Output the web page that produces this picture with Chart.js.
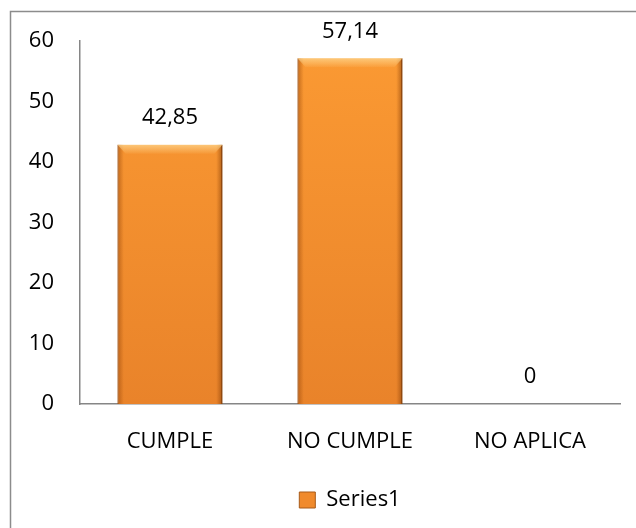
<!DOCTYPE html>
<html>
<head>
<meta charset="utf-8">
<script src="https://cdn.jsdelivr.net/npm/chart.js@4/dist/chart.umd.min.js"></script>
<style>
  html, body { margin: 0; padding: 0; background: #fff; }
  #wrap { width: 636px; height: 528px; }
</style>
</head>
<body>
<div id="wrap"><canvas id="grafica" width="636" height="528"></canvas></div>
<script>
// datos del grafico
const categorias = ['CUMPLE', 'NO CUMPLE', 'NO APLICA'];
const valores = [42.85, 57.14, 0];
const nombreSerie = 'Series1';
const ticksY = [0, 10, 20, 30, 40, 50, 60];

const fuente = '"Open Sans", Lato, sans-serif';

// marco gris alrededor del grafico
const marco = {
  id: 'marco',
  beforeDraw(chart) {
    const c = chart.ctx;
    c.save();
    c.strokeStyle = '#8c8c8c';
    c.lineWidth = 1.5;
    c.strokeRect(10.5, 11.5, chart.width + 20, chart.height + 20);
    c.restore();
  }
};

// sombreado lateral de las barras y etiquetas de valor
const barras = {
  id: 'barras',
  afterDatasetsDraw(chart) {
    const c = chart.ctx;
    const meta = chart.getDatasetMeta(0);
    meta.data.forEach((bar, i) => {
      const w = bar.width;
      const left = bar.x - w / 2;
      const top = bar.y;
      const h = bar.base - bar.y;
      if (h > 2) {
        c.save();
        const g = c.createLinearGradient(left, 0, left + w, 0);
        g.addColorStop(0, 'rgba(150,70,10,0.55)');
        g.addColorStop(0.06, 'rgba(150,70,10,0.0)');
        g.addColorStop(0.94, 'rgba(150,70,10,0.0)');
        g.addColorStop(1, 'rgba(120,55,5,0.6)');
        c.fillStyle = g;
        c.fillRect(left, top, w, h);
        // brillo superior
        const g2 = c.createLinearGradient(0, top, 0, top + 10);
        g2.addColorStop(0, 'rgba(255,220,150,0.7)');
        g2.addColorStop(1, 'rgba(255,220,150,0)');
        c.fillStyle = g2;
        c.beginPath();
        c.moveTo(left, top);
        c.lineTo(left + w, top);
        c.lineTo(left + w - 8, top + 9);
        c.lineTo(left + 8, top + 9);
        c.closePath();
        c.fill();
        c.restore();
      }
      c.save();
      c.fillStyle = '#000';
      c.font = '22px ' + fuente;
      c.textAlign = 'center';
      c.textBaseline = 'middle';
      const texto = String(valores[i]).replace('.', ',');
      c.fillText(texto, bar.x, bar.y - 27);
      c.restore();
    });
  }
};

const ctx = document.getElementById('grafica').getContext('2d');
const myChart = new Chart(ctx, {
  type: 'bar',
  data: {
    labels: categorias,
    datasets: [{
      label: nombreSerie,
      data: valores,
      backgroundColor: function (context) {
        const area = context.chart.chartArea;
        if (!area) return '#F7962E';
        const g = context.chart.ctx.createLinearGradient(0, area.top, 0, area.bottom);
        g.addColorStop(0, '#FB9A33');
        g.addColorStop(1, '#E9832A');
        return g;
      },
      borderColor: '#A85A18',
      borderWidth: { left: 1, right: 1.5, top: 0, bottom: 0 },
      categoryPercentage: 1,
      barPercentage: 0.583
    }]
  },
  options: {
    responsive: false,
    animation: false,
    layout: { padding: { top: 41, right: 16, left: 0, bottom: 7 } },
    scales: {
      x: {
        grid: { display: false, drawTicks: false },
        border: { display: true, color: '#868686', width: 1.5 },
        ticks: { color: '#000', font: { family: fuente, size: 22 }, padding: 25 },
        afterFit(scale) { scale.height = 77; }
      },
      y: {
        min: 0,
        max: 60,
        afterBuildTicks(scale) { scale.ticks = ticksY.map(v => ({ value: v })); },
        grid: { display: false, drawTicks: false },
        border: { display: true, color: '#868686', width: 1.5 },
        ticks: { color: '#000', font: { family: fuente, size: 22 }, padding: 26 },
        afterFit(scale) { scale.width = 80; }
      }
    },
    plugins: {
      legend: {
        position: 'bottom',
        fullSize: false,
        labels: {
          color: '#000',
          font: { family: fuente, size: 22 },
          boxWidth: 16,
          boxHeight: 16,
          padding: 8,
          generateLabels() {
            return [{ text: nombreSerie, fillStyle: '#F08A2C', strokeStyle: '#A85A18', lineWidth: 1, hidden: false, datasetIndex: 0 }];
          }
        }
      },
      tooltip: { enabled: false }
    }
  },
  plugins: [marco, barras]
});
</script>
</body>
</html>
